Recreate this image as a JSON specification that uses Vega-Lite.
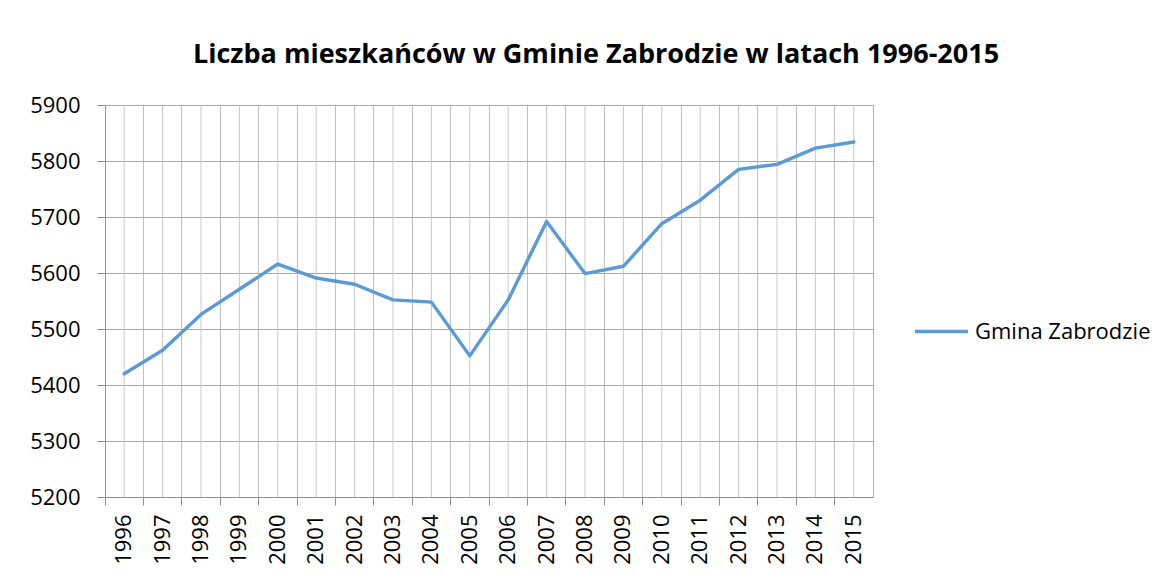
{
  "$schema": "https://vega.github.io/schema/vega-lite/v6.json",
  "autosize": {"type": "none"},
  "width": 768,
  "height": 392,
  "padding": {"left": 105, "top": 105, "right": 300, "bottom": 80},
  "background": "white",
  "title": {
    "text": "Liczba mieszkańców w Gminie Zabrodzie w latach 1996-2015",
    "font": "Open Sans",
    "fontSize": 27,
    "fontWeight": "bold",
    "color": "#000000",
    "anchor": "middle",
    "dx": 107,
    "offset": 25
  },
  "config": {
    "view": {"stroke": "#b0b0b0", "strokeWidth": 1},
    "axis": {
      "labelFont": "Open Sans",
      "labelFontSize": 22,
      "labelColor": "#000000",
      "domainColor": "#909090",
      "tickColor": "#909090",
      "gridColor": "#a8a8a8",
      "gridOpacity": 1,
      "title": null
    },
    "legend": {
      "labelFont": "Open Sans",
      "labelFontSize": 22,
      "labelColor": "#000000"
    }
  },
  "data": {
    "values": [
      {"rok": "1996", "liczba": 5420, "seria": "Gmina Zabrodzie"},
      {"rok": "1997", "liczba": 5462, "seria": "Gmina Zabrodzie"},
      {"rok": "1998", "liczba": 5526, "seria": "Gmina Zabrodzie"},
      {"rok": "1999", "liczba": 5571, "seria": "Gmina Zabrodzie"},
      {"rok": "2000", "liczba": 5616, "seria": "Gmina Zabrodzie"},
      {"rok": "2001", "liczba": 5591, "seria": "Gmina Zabrodzie"},
      {"rok": "2002", "liczba": 5580, "seria": "Gmina Zabrodzie"},
      {"rok": "2003", "liczba": 5552, "seria": "Gmina Zabrodzie"},
      {"rok": "2004", "liczba": 5548, "seria": "Gmina Zabrodzie"},
      {"rok": "2005", "liczba": 5452, "seria": "Gmina Zabrodzie"},
      {"rok": "2006", "liczba": 5552, "seria": "Gmina Zabrodzie"},
      {"rok": "2007", "liczba": 5692, "seria": "Gmina Zabrodzie"},
      {"rok": "2008", "liczba": 5599, "seria": "Gmina Zabrodzie"},
      {"rok": "2009", "liczba": 5612, "seria": "Gmina Zabrodzie"},
      {"rok": "2010", "liczba": 5688, "seria": "Gmina Zabrodzie"},
      {"rok": "2011", "liczba": 5730, "seria": "Gmina Zabrodzie"},
      {"rok": "2012", "liczba": 5785, "seria": "Gmina Zabrodzie"},
      {"rok": "2013", "liczba": 5794, "seria": "Gmina Zabrodzie"},
      {"rok": "2014", "liczba": 5823, "seria": "Gmina Zabrodzie"},
      {"rok": "2015", "liczba": 5834, "seria": "Gmina Zabrodzie"}
    ]
  },
  "encoding": {
    "x": {
      "field": "rok",
      "type": "ordinal",
      "scale": {"type": "band", "paddingInner": 0, "paddingOuter": 0},
      "axis": {
        "bandPosition": 0,
        "grid": true,
        "gridColor": "#c0c0c0",
        "ticks": true,
        "tickSize": 8,
        "labelAngle": -90,
        "labelPadding": 9,
        "labelAlign": "right",
        "labelBaseline": "middle"
      }
    }
  },
  "layer": [
    {
      "mark": {"type": "rule", "color": "#c8c8c8", "strokeWidth": 1},
      "encoding": {}
    },
    {
      "mark": {"type": "line", "strokeWidth": 3.4, "strokeCap": "round", "strokeJoin": "round"},
      "encoding": {
        "y": {
          "field": "liczba",
          "type": "quantitative",
          "scale": {"domain": [5200, 5900], "nice": false, "zero": false},
          "axis": {
            "values": [5200, 5300, 5400, 5500, 5600, 5700, 5800, 5900],
            "grid": true,
            "tickSize": 8,
            "labelPadding": 17,
            "format": "d"
          }
        },
        "color": {
          "field": "seria",
          "type": "nominal",
          "scale": {"range": ["#5b9bd5"]},
          "legend": {
            "title": null,
            "orient": "none",
            "legendX": 808,
            "legendY": 198,
            "padding": 0,
            "symbolType": "stroke",
            "symbolSize": 2809,
            "symbolStrokeWidth": 3.4,
            "labelOffset": 5,
            "labelLimit": 0
          }
        }
      }
    }
  ]
}
